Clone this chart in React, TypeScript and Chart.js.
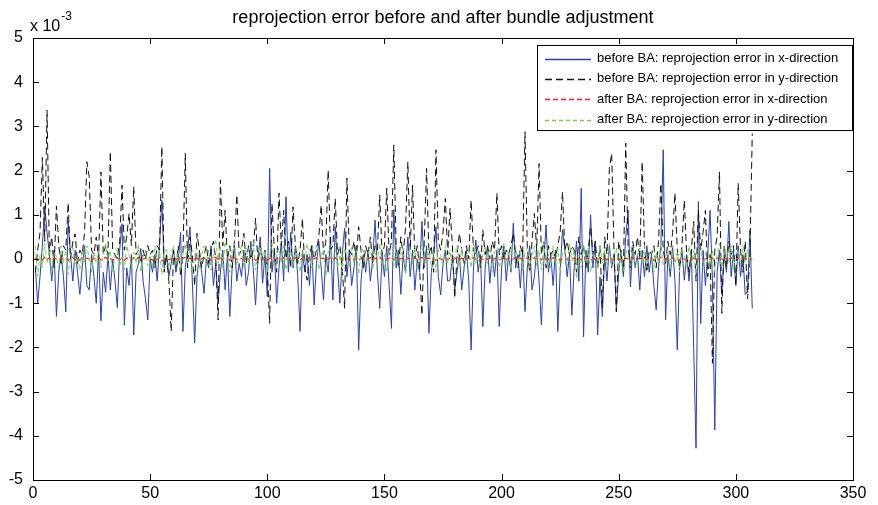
import React, { useEffect, useRef } from "react";
import { Chart, registerables } from "chart.js";
Chart.register(...registerables);

const chartTitle = "reprojection error before and after bundle adjustment";
const exponentBase = "x 10";
const exponentPower = "-3";
const seriesLabels = [
  "before BA: reprojection error in x-direction",
  "before BA: reprojection error in y-direction",
  "after BA: reprojection error in x-direction",
  "after BA: reprojection error in y-direction",
];
const xTicks = [0, 50, 100, 150, 200, 250, 300, 350];
const yTicks = [-5, -4, -3, -2, -1, 0, 1, 2, 3, 4, 5];

// values in units of 1e-3, one per sample (sample index 1..307)
const beforeX = [
  -0.2, -1.0, -0.4, 0.3, 1.2, 0.6, 0.1, -0.5, 0.2, -1.3,
  -0.3, 0.1, -0.4, -1.2, 0.85, 0.1, -0.5, 0.2, -0.3, -0.8,
  -0.2, 0.3, -0.6, -0.7, 0.1, -0.4, -1.0, 0.2, -1.4, -0.3,
  -0.75, 0.1, -0.7, 0.0, -0.5, -1.1, 0.2, 0.8, -1.5, -0.2,
  -0.6, 0.1, -1.72, -0.3, -0.1, 0.24, -0.5, -0.9, -1.38, 0.0,
  -0.3, 0.1, -0.5, 0.3, 1.33, -0.2, 0.1, -0.4, -0.1, 0.2,
  -0.3, 0.0, 0.6, -1.64, -0.2, 0.2, 0.73, -0.5, -1.9, -0.4,
  0.1, -0.3, -0.78, 0.0, -0.2, 0.3, -0.6, -0.1, -1.0, -0.3,
  0.2, -0.7, 0.1, -1.3, -0.2, 0.3, -0.5, -0.1, -0.4, 0.2,
  -0.6, -0.3, 0.4, -0.2, -1.04, 0.0, 0.5, -0.55, 0.1, -0.85,
  2.05, -0.3, 0.2, -1.0, -0.2, 0.4, -0.5, 1.41, -0.3, 0.6,
  -0.2, 0.3, -0.4, -1.64, 0.2, -0.3, 0.1, -0.6, 0.3, -1.04,
  -0.1, 0.4, -0.2, -0.93, 0.1, -0.3, 0.5, -0.93, 0.73, -0.2,
  -1.0, 0.1, 0.7, -0.4, 0.2, -0.6, -0.2, 0.3, -2.06, -0.5,
  0.1, -0.3, 0.2, -0.5, 0.0, 0.88, -0.3, -1.12, 0.1, -0.4,
  0.3, -0.6, -1.57, 1.12, -0.2, 0.2, -0.8, 0.1, -0.3, 0.5,
  -0.4, 0.2, -0.7, 0.0, -0.3, 0.85, -0.2, 0.3, -1.68, -0.3,
  0.1, 0.73, -0.4, -0.81, -0.1, 0.2, -0.5, -0.48, 0.1, -0.7,
  -0.3, 0.1, -0.7, -0.2, 0.2, -0.5, -2.06, -0.2, 0.43, -0.3,
  0.1, -1.53, -0.2, 0.3, -0.55, 0.1, -0.4, 0.2, -1.53, -0.2,
  0.3, -0.5, 0.1, -0.3, 0.81, -0.2, 0.1, -0.66, 0.2, -1.19,
  -0.2, 0.3, -0.7, -0.4, 0.2, -0.5, -1.49, -0.1, 0.77, -0.3,
  0.1, -0.6, 0.2, -1.64, -0.3, 0.66, 0.2, -0.4, 0.1, -1.27,
  -0.2, 0.4, -0.5, 1.6, -1.76, 0.2, -0.3, 1.0, -0.2, 0.4,
  -1.72, -0.4, -1.3, 0.1, -0.5, 0.3, -0.2, 0.1, -1.19, -0.3,
  0.2, -0.4, 0.5, 1.1, -0.63, 0.3, -0.2, 0.1, -0.7, 0.2,
  -0.4, 0.3, -0.3, 0.1, -0.6, -1.15, -0.2, 0.3, 2.47, -1.38,
  0.1, -0.4, 0.3, -0.5, -2.06, -0.2, 0.2, -0.48, 0.1, -0.5,
  0.2, -2.0, -4.28, 1.3, -1.46, 0.2, -0.6, 0.1, 1.1, -0.5,
  -3.87, -0.3, 0.2, -0.8, 0.1, -0.3, 0.85, -0.4, 0.2, -0.6,
  0.3, -0.4, 0.1, -0.8, -0.74, 0.66, -1.12,
];

const beforeY = [
  -0.3, 0.2, 0.6, 2.3, 0.4, 3.37, 0.1, 0.5, -0.2, 1.2,
  0.3, -0.1, 0.3, 0.2, 1.27, 0.0, 0.4, 0.57, -0.1, 0.2,
  0.1, 0.6, 2.2, 1.86, 0.2, 0.1, 0.5, 0.0, 1.97, 0.1,
  0.3, 0.1, 2.43, 0.2, 0.1, 0.0, 0.4, 1.67, 0.2, 0.5,
  1.03, 0.3, 1.64, 0.1, 0.2, -0.1, 0.2, 0.0, 0.3, 0.1,
  0.2, -0.2, 0.3, 0.2, 2.54, -0.3, 0.1, -0.5, -1.64, 0.2,
  -0.2, 0.3, -0.4, 0.1, 2.39, -0.2, 0.5, 0.1, -0.6, 0.58,
  0.2, -0.2, 0.1, 0.3, -0.1, 0.2, 0.4, 0.0, -1.38, 1.79,
  0.3, 1.1, 0.0, 0.3, -0.2, 0.4, 1.45, 0.1, 0.2, 0.58,
  -0.1, 0.3, 0.0, 0.2, 0.92, -0.1, 0.3, 0.0, 0.2, -0.2,
  -1.46, 1.26, 0.2, -0.3, 1.49, 0.3, 1.1, 0.0, 0.4, -0.2,
  1.18, 0.3, -0.1, 0.2, 0.92, -0.2, -0.48, 0.1, 0.3, 0.0,
  0.2, 0.5, 1.22, 0.1, 0.4, 2.01, 0.2, 0.3, 1.37, 0.1,
  0.3, -0.2, -1.12, 1.83, 0.2, 0.1, 0.4, 0.0, 0.73, 0.2,
  -0.2, 0.3, 0.1, 0.5, -0.1, 0.3, 0.2, 1.45, 0.1, 0.3,
  1.6, 0.1, 0.4, 2.58, 0.3, -0.2, 0.5, 0.1, 0.7, 2.2,
  0.2, 1.67, 0.0, 0.3, -0.2, -1.27, 0.4, 2.05, 0.1, 0.3,
  -0.3, 2.47, 0.4, 0.2, 0.6, 1.37, 0.1, 1.15, 0.3, -0.89,
  0.1, 0.58, 0.2, -0.1, 0.3, 0.0, 1.33, 0.2, 0.1, 0.3,
  -0.2, 0.66, 0.1, 0.3, 0.0, 0.4, 0.2, 1.49, 0.1, 0.3,
  0.0, 0.2, 0.1, 0.3, 0.58, 0.1, -0.2, 0.3, 0.1, 2.88,
  0.2, -0.3, 0.4, 1.03, 0.2, 2.16, 0.1, 0.4, -0.2, 0.3,
  0.1, 0.2, 0.0, 0.3, 0.6, 1.52, 0.2, 0.4, 0.1, 0.3,
  0.2, -0.3, 0.5, 0.1, 0.3, -0.2, 0.2, 0.73, 0.1, 0.4,
  -0.2, 0.3, -1.1, 0.5, 0.1, 2.05, 2.39, 0.2, -1.19, 0.4,
  0.1, -0.3, 2.62, 0.3, -0.2, 0.4, 0.1, 0.5, 0.0, 2.2,
  0.3, -0.3, 0.2, 0.1, 0.3, -0.2, 0.4, 1.71, 0.2, -0.1,
  0.4, 0.1, 0.6, 1.49, 0.2, -0.2, 0.3, 1.33, 0.1, -0.3,
  0.2, 0.85, -0.5, 1.1, 0.2, 0.6, 1.1, -0.4, 0.1, -2.36,
  0.2, 0.5, 1.97, -1.23, 0.3, -0.2, 0.4, 0.1, 0.3, -0.6,
  1.71, 0.2, -0.3, 0.4, -0.9, 0.1, 2.84,
];

const afterX = [
  0.02, -0.03, 0.01, -0.02, 0.04, -0.01, 0.03, -0.04, 0.02, 0.0,
  -0.02, 0.03, -0.01, 0.02, -0.03, 0.01, 0.04, -0.02, 0.0, -0.03,
  0.03, -0.01, 0.02, 0.0, -0.04, 0.02, -0.01, 0.03, -0.02, 0.01,
  0.04, -0.02, 0.01, -0.03, 0.02, 0.03, -0.01, 0.0, -0.03, 0.02,
  0.01, -0.02, 0.03, -0.01, 0.04, -0.03, 0.0, 0.02, -0.02, 0.01,
  -0.03, 0.02, -0.01, 0.03, -0.04, 0.01, 0.02, -0.02, 0.0, 0.03,
  -0.01, 0.02, -0.03, 0.01, 0.04, -0.01, 0.02, -0.03, 0.0, 0.02,
  -0.02, 0.01, 0.03, -0.01, 0.02, -0.03, 0.01, 0.04, -0.01, 0.03,
  -0.02, 0.03, 0.01, -0.03, 0.02, 0.03, -0.01, 0.0, 0.02, -0.02,
  0.02, -0.01, 0.03, 0.01, -0.03, 0.0, 0.02, -0.02, 0.03, -0.03,
  0.01, 0.03, -0.02, 0.0, 0.02, -0.01, 0.03, -0.02, 0.01, 0.02,
  -0.01, 0.03, 0.0, -0.03, 0.02, -0.01, 0.04, 0.0, -0.02, 0.01,
  0.03, -0.02, 0.01, 0.02, -0.04, 0.01, 0.02, -0.01, 0.03, -0.02,
  0.0, -0.03, 0.02, 0.01, -0.02, 0.03, -0.01, 0.02, -0.03, 0.01,
  0.02, -0.01, 0.0, 0.03, -0.02, 0.02, -0.01, 0.04, -0.02, 0.0,
  -0.03, 0.02, 0.0, -0.01, 0.03, -0.02, 0.01, 0.02, -0.03, 0.01,
  0.02, -0.01, 0.03, -0.02, 0.0, 0.04, -0.01, 0.01, 0.02, -0.02,
  0.01, -0.03, 0.02, 0.0, -0.02, 0.03, -0.01, 0.02, -0.02, 0.0,
  0.03, -0.01, 0.02, -0.03, 0.01, 0.02, -0.02, 0.03, -0.01, 0.01,
  -0.02, 0.0, 0.03, -0.01, 0.02, -0.03, 0.01, 0.02, -0.02, 0.0,
  0.04, -0.01, 0.02, -0.02, 0.0, 0.03, -0.01, 0.02, -0.03, 0.01,
  0.02, -0.02, 0.0, 0.03, -0.01, 0.02, -0.02, 0.04, -0.01, 0.0,
  -0.02, 0.03, -0.01, 0.02, -0.03, 0.01, 0.02, -0.01, 0.03, 0.0,
  0.02, -0.04, 0.01, -0.02, 0.03, -0.01, 0.02, -0.03, 0.01, 0.0,
  -0.02, 0.03, -0.01, 0.02, -0.02, 0.04, -0.01, 0.0, 0.02, -0.02,
  0.01, -0.03, 0.02, 0.0, -0.01, 0.03, -0.02, 0.01, 0.02, -0.01,
  0.03, -0.02, 0.0, 0.02, -0.03, 0.01, -0.01, 0.04, -0.01, 0.0,
  0.02, -0.02, 0.03, -0.01, 0.01, -0.03, 0.02, 0.0, -0.02, 0.03,
  -0.01, 0.02, -0.04, 0.01, 0.03, -0.02, 0.0, 0.02, -0.01, 0.02,
  -0.03, 0.01, 0.04, -0.02, 0.01, 0.02, -0.01, 0.03, -0.02, 0.0,
  0.02, -0.01, 0.03, -0.01, 0.02, -0.02, 0.0,
];

const afterY = [
  0.3, -0.4, 0.1, -0.2, 0.35, -0.1, 0.2, -0.3, 0.15, 0.05,
  -0.2, 0.3, -0.1, 0.2, -0.35, 0.1, 0.25, -0.15, 0.05, -0.25,
  0.2, -0.1, 0.3, 0.0, -0.3, 0.15, -0.1, 0.2, -0.2, 0.1,
  0.35, -0.05, 0.2, -0.3, 0.1, 0.25, -0.15, 0.05, -0.25, 0.3,
  0.1, -0.2, 0.15, -0.1, 0.35, -0.3, 0.05, 0.2, -0.15, 0.1,
  -0.2, 0.3, -0.1, 0.2, -0.35, 0.15, 0.25, -0.2, 0.1, 0.3,
  -0.15, 0.2, -0.25, 0.1, 0.35, -0.1, 0.2, -0.3, 0.05, 0.25,
  -0.2, 0.1, 0.3, -0.15, 0.2, -0.25, 0.1, 0.45, -0.1, 0.3,
  -0.2, 0.4, 0.1, -0.3, 0.2, 0.35, -0.15, 0.1, 0.3, -0.2,
  0.25, -0.1, 0.2, 0.4, -0.25, 0.1, 0.3, -0.15, 0.2, -0.3,
  0.15, 0.35, -0.2, 0.1, 0.25, -0.1, 0.3, -0.25, 0.05, 0.2,
  -0.15, 0.3, 0.1, -0.3, 0.2, -0.1, 0.35, 0.05, -0.2, 0.15,
  0.3, -0.25, 0.1, 0.2, -0.4, 0.15, 0.25, -0.1, 0.3, -0.2,
  0.1, -0.3, 0.25, 0.05, -0.2, 0.3, -0.1, 0.2, -0.35, 0.15,
  0.25, -0.15, 0.1, 0.3, -0.25, 0.2, -0.05, 0.35, -0.2, 0.1,
  -0.3, 0.2, 0.05, -0.15, 0.3, -0.2, 0.1, 0.25, -0.35, 0.15,
  0.2, -0.1, 0.3, -0.25, 0.1, 0.35, -0.15, 0.05, 0.25, -0.2,
  0.15, -0.3, 0.2, 0.1, -0.2, 0.3, -0.1, 0.2, -0.25, 0.05,
  0.3, -0.15, 0.25, -0.3, 0.1, 0.2, -0.2, 0.35, -0.1, 0.15,
  -0.25, 0.1, 0.3, -0.1, 0.2, -0.3, 0.15, 0.25, -0.2, 0.1,
  0.35, -0.15, 0.2, -0.25, 0.05, 0.3, -0.1, 0.2, -0.3, 0.15,
  0.25, -0.2, 0.1, 0.3, -0.15, 0.2, -0.25, 0.35, -0.1, 0.1,
  -0.2, 0.3, -0.1, 0.25, -0.3, 0.15, 0.2, -0.15, 0.35, -0.05,
  0.2, -0.45, 0.1, -0.2, 0.3, -0.1, 0.25, -0.3, 0.15, 0.05,
  -0.2, 0.3, -0.1, 0.2, -0.25, 0.35, -0.15, 0.1, 0.25, -0.2,
  0.15, -0.3, 0.2, 0.05, -0.15, 0.3, -0.2, 0.1, 0.25, -0.1,
  0.3, -0.2, 0.1, 0.2, -0.3, 0.15, -0.1, 0.35, -0.15, 0.05,
  0.2, -0.25, 0.3, -0.1, 0.15, -0.3, 0.25, 0.05, -0.2, 0.3,
  -0.1, 0.2, -0.35, 0.15, 0.3, -0.2, 0.1, 0.25, -0.15, 0.2,
  -0.3, 0.1, 0.35, -0.2, 0.15, 0.25, -0.1, 0.3, -0.25, 0.1,
  0.2, -0.15, 0.3, -0.1, 0.2, -0.2, 0.1,
];

const FONT = "'Liberation Sans', Arial, Helvetica, sans-serif";
const colors = ["#2b3fae", "#111111", "#ff2020", "#6fd34a"];
const dashes = [[], [7, 4], [5, 3], [4, 3]];

const toPoints = (arr: number[]) => arr.map((y, i) => ({ x: i + 1, y }));

const framePlugin = {
  id: "matlabFrame",
  afterDraw(chart: any) {
    const { ctx, chartArea: a, scales } = chart;
    ctx.save();
    ctx.strokeStyle = "#000";
    ctx.lineWidth = 1;
    ctx.setLineDash([]);
    ctx.strokeRect(Math.round(a.left) + 0.5, Math.round(a.top) + 0.5, Math.round(a.right - a.left), Math.round(a.bottom - a.top));
    const tl = 6;
    ctx.beginPath();
    for (const v of xTicks) {
      const px = Math.round(scales.x.getPixelForValue(v)) + 0.5;
      ctx.moveTo(px, a.bottom);
      ctx.lineTo(px, a.bottom - tl);
      ctx.moveTo(px, a.top);
      ctx.lineTo(px, a.top + tl);
    }
    for (const v of yTicks) {
      const py = Math.round(scales.y.getPixelForValue(v)) + 0.5;
      ctx.moveTo(a.left, py);
      ctx.lineTo(a.left + tl, py);
      ctx.moveTo(a.right, py);
      ctx.lineTo(a.right - tl, py);
    }
    ctx.stroke();

    // title
    ctx.fillStyle = "#000";
    ctx.font = `18px ${FONT}`;
    ctx.textAlign = "center";
    ctx.textBaseline = "middle";
    ctx.fillText(chartTitle, (a.left + a.right) / 2, 18);

    // exponent label
    ctx.textAlign = "left";
    ctx.font = `16px ${FONT}`;
    ctx.fillText(exponentBase, 30, 27);
    const w = ctx.measureText(exponentBase).width;
    ctx.font = `12px ${FONT}`;
    ctx.fillText(exponentPower, 30 + w + 1, 17);

    // legend
    const lx = 537, ly = 45, lw = 315, lh = 85;
    ctx.fillStyle = "#fff";
    ctx.fillRect(lx, ly, lw, lh);
    ctx.strokeStyle = "#000";
    ctx.strokeRect(lx + 0.5, ly + 0.5, lw, lh);
    ctx.font = `13px ${FONT}`;
    chart.data.datasets.forEach((ds: any, i: number) => {
      const y = ly + 13.5 + i * 20.4;
      ctx.strokeStyle = ds.borderColor;
      ctx.lineWidth = 1.3;
      ctx.setLineDash(ds.borderDash || []);
      ctx.beginPath();
      ctx.moveTo(545, Math.round(y) + 0.5);
      ctx.lineTo(591, Math.round(y) + 0.5);
      ctx.stroke();
      ctx.setLineDash([]);
      ctx.lineWidth = 1;
      ctx.fillStyle = "#000";
      ctx.textBaseline = "middle";
      ctx.fillText(ds.label, 597, y);
    });
    ctx.restore();
  },
};

export default function App() {
  const ref = useRef<HTMLCanvasElement | null>(null);
  useEffect(() => {
    document.body.style.margin = "0";
    const series = [beforeX, beforeY, afterX, afterY];
    const chart = new Chart(ref.current as HTMLCanvasElement, {
      type: "line",
      data: {
        datasets: series.map((s, i) => ({
          label: seriesLabels[i],
          data: toPoints(s),
          borderColor: colors[i],
          borderDash: dashes[i],
          borderWidth: i === 2 ? 1.3 : 1,
          pointRadius: 0,
          tension: 0,
          fill: false,
          order: 4 - i,
        })),
      },
      options: {
        responsive: false,
        animation: false,
        layout: { padding: { top: 38, right: 25, left: 0, bottom: 0 } },
        plugins: { legend: { display: false }, title: { display: false }, tooltip: { enabled: false } },
        scales: {
          x: {
            type: "linear",
            min: 0,
            max: 350,
            afterFit: (s: any) => { s.height = 25; },
            afterBuildTicks: (s: any) => { s.ticks = xTicks.map((v) => ({ value: v })); },
            grid: { display: false, drawTicks: false },
            border: { display: false },
            ticks: { color: "#000", font: { size: 16, family: FONT }, padding: 4, maxRotation: 0 },
          },
          y: {
            type: "linear",
            min: -5,
            max: 5,
            afterFit: (s: any) => { s.width = 33; },
            afterBuildTicks: (s: any) => { s.ticks = yTicks.map((v) => ({ value: v })); },
            grid: { display: false, drawTicks: false },
            border: { display: false },
            ticks: { color: "#000", font: { size: 16, family: FONT }, padding: 10 },
          },
        },
      },
      plugins: [framePlugin],
    });
    return () => chart.destroy();
  }, []);
  return (
    <div style={{ width: 878, height: 505, background: "#fff" }}>
      <canvas ref={ref} width={878} height={505} style={{ display: "block" }} />
    </div>
  );
}
